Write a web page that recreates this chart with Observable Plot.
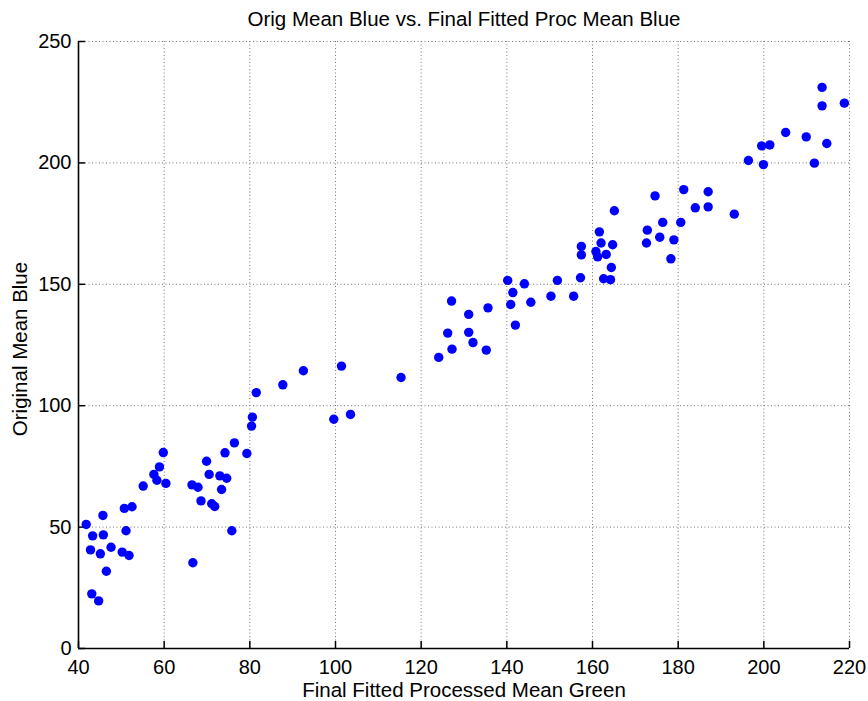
<!DOCTYPE html>
<html>
<head>
<meta charset="utf-8">
<script src="https://cdn.jsdelivr.net/npm/d3@7"></script>
<script src="https://cdn.jsdelivr.net/npm/@observablehq/plot@0.6"></script>
<style>
  html, body { margin: 0; padding: 0; background: #fff; }
</style>
</head>
<body>
<div id="chart"></div>
<script>
const title = "Orig Mean Blue vs. Final Fitted Proc Mean Blue";
const xLabel = "Final Fitted Processed Mean Green";
const yLabel = "Original Mean Blue";
const xTicks = [40, 60, 80, 100, 120, 140, 160, 180, 200, 220];
const yTicks = [0, 50, 100, 150, 200, 250];

const procGreen = [
  41.8, 43.3, 42.8, 45.7, 45.8, 45.1, 47.6, 46.5, 43.1, 44.7,
  50.2, 51.8, 51.1, 50.7, 52.5, 55.1, 57.6, 58.9, 58.3, 59.8,
  60.4, 66.5, 67.9, 66.7, 68.6, 69.9, 70.5, 71.1, 71.8, 73.0,
  74.6, 73.4, 74.2, 75.8, 76.4, 79.3, 80.4, 80.6, 81.5, 87.7,
  92.5, 101.4, 99.6, 103.5, 115.3, 124.1, 127.2, 126.2, 127.1, 131.1,
  131.1, 132.1, 135.2, 135.6, 140.2, 141.4, 140.9, 142.0, 144.1, 145.6,
  150.3, 151.8, 155.6, 157.2, 157.4, 157.4, 161.6, 160.8, 161.2, 162.0,
  163.2, 164.7, 164.4, 162.6, 164.2, 165.1, 172.6, 172.8, 174.6, 175.7,
  176.4, 178.3, 179.0, 180.6, 181.3, 184.0, 187.0, 187.0, 193.1, 196.4,
  199.5, 201.4, 199.9, 211.8, 214.7, 213.6, 213.6, 218.8, 205.1, 209.9
];
const origBlue = [
  51.1, 46.4, 40.6, 54.8, 46.8, 39.0, 41.7, 31.8, 22.5, 19.6,
  39.7, 38.3, 48.5, 57.7, 58.4, 66.9, 71.7, 74.8, 69.3, 80.7,
  68.0, 67.4, 66.4, 35.3, 60.8, 77.1, 71.7, 59.6, 58.5, 71.1,
  70.1, 65.5, 80.6, 48.5, 84.7, 80.3, 91.6, 95.3, 105.4, 108.6,
  114.4, 116.3, 94.4, 96.4, 111.6, 119.9, 123.3, 129.9, 143.1, 137.6,
  130.2, 126.0, 122.9, 140.3, 151.6, 146.6, 141.7, 133.2, 150.2, 142.6,
  145.1, 151.6, 145.1, 152.7, 162.1, 165.6, 171.6, 163.5, 161.3, 167.0,
  162.3, 166.3, 156.9, 152.3, 151.9, 180.3, 167.0, 172.3, 186.4, 169.4,
  175.5, 160.5, 168.3, 175.5, 189.0, 181.5, 188.1, 181.9, 178.9, 201.0,
  207.0, 207.4, 199.3, 199.9, 208.0, 231.1, 223.5, 224.6, 212.5, 210.7
];

const points = procGreen.map((x, i) => ({x, y: origBlue[i]}));

const W = 868, H = 701;
const mL = 78, mR = 19, mT = 41, mB = 53;
const plotW = W - mL - mR, plotH = H - mT - mB;
const font = "'Liberation Sans', Arial, sans-serif";
const fsTick = 20;
const fsLabel = 20.5;

const chart = Plot.plot({
  width: W,
  height: H,
  marginLeft: mL,
  marginRight: mR,
  marginTop: mT,
  marginBottom: mB,
  style: {fontFamily: font, fontSize: fsTick + "px", color: "#000", background: "#fff"},
  x: {domain: [40, 220]},
  y: {domain: [0, 250]},
  marks: [
    Plot.gridX(xTicks, {stroke: "#777", strokeOpacity: 1, strokeDasharray: "1,2.5"}),
    Plot.gridY(yTicks, {stroke: "#777", strokeOpacity: 1, strokeDasharray: "1,2.5"}),
    Plot.axisX(xTicks, {tickSize: 0, tickPadding: 11, label: null, fontSize: fsTick, tickFormat: d => String(d)}),
    Plot.axisY(yTicks, {tickSize: 0, tickPadding: 7, label: null, fontSize: fsTick, tickFormat: d => String(d)}),
    Plot.tickX(xTicks, {x: d => d, stroke: "#000", strokeWidth: 1.5, insetTop: plotH - 7}),
    Plot.tickY(yTicks, {y: d => d, stroke: "#000", strokeWidth: 1.5, insetRight: plotW - 7}),
    Plot.ruleX([40], {stroke: "#000", strokeWidth: 1.6}),
    Plot.ruleY([0], {stroke: "#000", strokeWidth: 1.6}),
    Plot.dot(points, {x: "x", y: "y", r: 4.7, fill: "#0000ff", stroke: "none"}),
    Plot.text([title], {frameAnchor: "top", dy: -22, lineAnchor: "middle", textAnchor: "middle", text: d => d, fontSize: fsLabel, fill: "#000"}),
    Plot.text([xLabel], {frameAnchor: "bottom", dy: 42, lineAnchor: "middle", textAnchor: "middle", text: d => d, fontSize: fsLabel, fill: "#000"}),
    Plot.text([yLabel], {frameAnchor: "left", dx: -58, dy: 4, rotate: -90, lineAnchor: "middle", textAnchor: "middle", text: d => d, fontSize: fsLabel, fill: "#000"})
  ]
});

document.getElementById("chart").appendChild(chart);
</script>
</body>
</html>
